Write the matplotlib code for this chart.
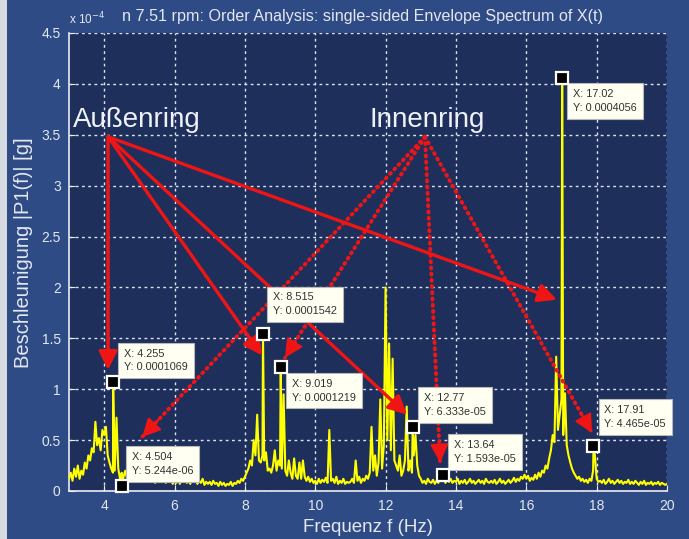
import numpy as np
import matplotlib
matplotlib.use("Agg")
import matplotlib.pyplot as plt
from matplotlib.patches import Rectangle
from matplotlib.ticker import FuncFormatter

# envelope spectrum sampled every 0.05 Hz from 3.00 Hz, amplitude in units of 1e-4 g
spectrum_e4 = [
    # 3.00 - 3.95
    0.12, 0.18, 0.10, 0.22, 0.14, 0.25, 0.12, 0.20, 0.16, 0.28, 0.22, 0.35, 0.30, 0.42, 0.38, 0.68, 0.45, 0.52, 0.40, 0.60,
    # 4.00 - 4.95
    0.55, 0.63, 0.35, 0.28, 0.22, 0.18, 0.20, 0.72, 0.22, 0.12, 0.18, 0.14, 0.20, 0.12, 0.16, 0.10, 0.18, 0.12, 0.15, 0.10,
    # 5.00 - 5.95
    0.14, 0.10, 0.16, 0.12, 0.18, 0.09, 0.13, 0.10, 0.15, 0.08, 0.12, 0.09, 0.14, 0.10, 0.22, 0.08, 0.12, 0.10, 0.11, 0.07,
    # 6.00 - 6.95
    0.10, 0.08, 0.13, 0.07, 0.11, 0.09, 0.12, 0.08, 0.10, 0.07, 0.15, 0.09, 0.11, 0.07, 0.10, 0.08, 0.12, 0.06, 0.09, 0.07,
    # 7.00 - 7.95
    0.09, 0.06, 0.10, 0.07, 0.08, 0.05, 0.09, 0.06, 0.08, 0.05, 0.07, 0.06, 0.09, 0.05, 0.08, 0.07, 0.10, 0.08, 0.12, 0.10,
    # 8.00 - 8.95
    0.14, 0.18, 0.22, 0.30, 0.25, 0.50, 0.35, 0.75, 0.30, 0.28, 0.35, 0.30, 0.38, 0.20, 0.22, 0.18, 0.25, 0.40, 0.20, 0.30,
    # 9.00 - 9.95
    0.25, 0.22, 0.95, 0.20, 0.15, 0.30, 0.18, 0.12, 0.32, 0.15, 0.12, 0.28, 0.12, 0.30, 0.14, 0.10, 0.14, 0.09, 0.12, 0.08,
    # 10.00 - 10.95
    0.10, 0.07, 0.12, 0.08, 0.11, 0.09, 0.13, 0.08, 0.60, 0.10, 0.12, 0.08, 0.14, 0.07, 0.10, 0.08, 0.12, 0.07, 0.09, 0.08,
    # 11.00 - 11.95
    0.09, 0.12, 0.08, 0.30, 0.10, 0.14, 0.08, 0.12, 0.10, 0.15, 0.12, 0.18, 0.63, 0.20, 0.35, 0.15, 0.28, 0.90, 0.22, 0.45,
    # 12.00 - 12.95
    2.00, 0.50, 1.45, 0.40, 1.30, 0.30, 0.25, 0.20, 0.35, 0.15, 0.20, 0.30, 0.83, 0.20, 0.30, 0.18, 0.35, 0.55, 0.25, 0.15,
    # 13.00 - 13.95
    0.12, 0.08, 0.10, 0.07, 0.12, 0.09, 0.08, 0.11, 0.07, 0.10, 0.08, 0.12, 0.10, 0.14, 0.08, 0.11, 0.09, 0.12, 0.08, 0.10,
    # 14.00 - 14.95
    0.09, 0.12, 0.07, 0.10, 0.08, 0.11, 0.07, 0.09, 0.12, 0.08, 0.10, 0.07, 0.09, 0.11, 0.08, 0.10, 0.07, 0.12, 0.09, 0.08,
    # 15.00 - 15.95
    0.10, 0.08, 0.11, 0.07, 0.09, 0.12, 0.08, 0.10, 0.07, 0.09, 0.11, 0.08, 0.10, 0.13, 0.09, 0.12, 0.10, 0.14, 0.12, 0.16,
    # 16.00 - 16.95
    0.12, 0.15, 0.10, 0.13, 0.11, 0.16, 0.12, 0.18, 0.14, 0.20, 0.18, 0.25, 0.22, 0.32, 0.40, 0.55, 0.48, 1.32, 0.60, 0.75,
    # 17.00 - 17.95
    0.90, 0.55, 0.96, 0.45, 0.35, 0.28, 0.22, 0.18, 0.15, 0.12, 0.14, 0.10, 0.12, 0.09, 0.11, 0.08, 0.12, 0.10, 0.20, 0.35,
    # 18.00 - 18.95
    0.12, 0.09, 0.10, 0.08, 0.11, 0.07, 0.09, 0.12, 0.08, 0.10, 0.07, 0.09, 0.11, 0.08, 0.10, 0.07, 0.09, 0.08, 0.11, 0.07,
    # 19.00 - 20.00
    0.09, 0.07, 0.10, 0.08, 0.06, 0.09, 0.07, 0.10, 0.06, 0.08, 0.07, 0.09, 0.06, 0.08, 0.07, 0.09, 0.06, 0.08, 0.07, 0.06,
    0.07,
]
f_start, f_step = 3.0, 0.05

# data tips placed on the spectrum
tip_f = [4.255, 4.504, 8.515, 9.019, 12.77, 13.64, 17.02, 17.91]
tip_y = [0.0001069, 5.244e-06, 0.0001542, 0.0001219, 6.333e-05, 1.593e-05, 0.0004056, 4.465e-05]
tip_xlabel = ["4.255", "4.504", "8.515", "9.019", "12.77", "13.64", "17.02", "17.91"]
tip_ylabel = ["0.0001069", "5.244e-06", "0.0001542", "0.0001219", "6.333e-05", "1.593e-05", "0.0004056", "4.465e-05"]
# pixel offset of the tip text and its vertical anchor
tip_offset = [(11, 10), (10, 10), (10, 18), (11, -12), (11, 10), (11, 11), (11, -11), (11, 17)]
tip_va = ["bottom", "bottom", "bottom", "top", "bottom", "bottom", "top", "bottom"]

# annotation arrows (start -> end in data units, y in 1e-4 g)
outer_start = (4.11, 3.48)
outer_ends = [(4.11, 1.19), (8.49, 1.33), (12.61, 0.75), (16.87, 1.88)]
inner_start = (13.12, 3.48)
inner_ends = [(5.08, 0.53), (9.14, 1.31), (13.55, 0.28), (17.87, 0.57)]

fig_bg = "#2f4b85"
ax_bg = "#1e2f5c"
txt = "#e3e8f1"
red = "#f01515"
head = "-|>,head_length=0.7,head_width=0.35"

plt.rcParams["font.family"] = ["Liberation Sans", "DejaVu Sans"]

fig = plt.figure(figsize=(6.89, 5.39), dpi=100, facecolor=fig_bg)
fig.patches.append(Rectangle((0, 0), 7 / 689, 1, transform=fig.transFigure,
                             facecolor="#d6dbe2", edgecolor="none", zorder=0))
ax = fig.add_axes([69 / 689, 1 - 491 / 539, 598 / 689, 458 / 539])
ax.set_facecolor(ax_bg)

# merge the regular samples with the data tip peaks
freq = f_start + f_step * np.arange(len(spectrum_e4))
amp = np.array(spectrum_e4) * 1e-4
freq = np.concatenate([freq, tip_f])
amp = np.concatenate([amp, tip_y])
order = np.argsort(freq)
ax.plot(freq[order], amp[order], color="#ffff00", lw=1.5, zorder=3)

ax.set_xlim(3, 20)
ax.set_ylim(0, 4.5e-4)
ax.set_xticks(np.arange(4, 21, 2))
ax.set_yticks(np.arange(0, 4.51e-4, 0.5e-4))
ax.yaxis.set_major_formatter(FuncFormatter(lambda v, p: f"{v * 1e4:g}"))
ax.tick_params(direction="in", length=4, color="#e8ecf4", labelcolor=txt,
               labelsize=10, pad=6)
ax.grid(True, color="#dfe5ef", lw=1.0, linestyle=(0, (2, 2.5)))
for s in ["top", "right"]:
    ax.spines[s].set_visible(False)
for s in ["left", "bottom"]:
    ax.spines[s].set_color("#e8ecf4")
    ax.spines[s].set_linewidth(1.2)

ax.set_xlabel("Frequenz f (Hz)", fontsize=13.5, color=txt, labelpad=4)
ax.set_ylabel("Beschleunigung |P1(f)| [g]", fontsize=14.5, color=txt)
ax.yaxis.set_label_coords(-0.06, 0.52)
ax.text(0, 1.012, "x 10$^{-4}$", transform=ax.transAxes, fontsize=8.5,
        color=txt, ha="left", va="bottom")
fig.text(363 / 689, 1 - 17 / 539,
         "n 7.51 rpm: Order Analysis: single-sided Envelope Spectrum of X(t)",
         fontsize=11.6, color=txt, ha="center", va="center")

# group labels
ax.text(4.93, 3.576e-4, "Außenring", fontsize=20, color="#eef1f7",
        ha="center", va="baseline", zorder=6)
ax.text(13.18, 3.576e-4, "Innenring", fontsize=20, color="#eef1f7",
        ha="center", va="baseline", zorder=6)

# solid arrows for the outer race, dotted ones for the inner race
for end in outer_ends:
    ax.annotate("", xy=(end[0], end[1] * 1e-4),
                xytext=(outer_start[0], outer_start[1] * 1e-4),
                arrowprops=dict(arrowstyle=head, color=red, lw=2.4,
                                mutation_scale=16, shrinkA=0, shrinkB=0), zorder=7)
for end in inner_ends:
    sx, sy = inner_start
    ex, ey = end
    ax.annotate("", xy=(ex, ey * 1e-4), xytext=(sx, sy * 1e-4),
                arrowprops=dict(arrowstyle="-", color=red, lw=2.8,
                                linestyle=(0, (0.3, 1.3)), capstyle="round",
                                shrinkA=0, shrinkB=0), zorder=7)
    # short solid piece at the tip carries the arrow head
    hx, hy = ex + (sx - ex) * 0.06, ey + (sy - ey) * 0.06
    ax.annotate("", xy=(ex, ey * 1e-4), xytext=(hx, hy * 1e-4),
                arrowprops=dict(arrowstyle=head, color=red, lw=1.5,
                                mutation_scale=16, shrinkA=0, shrinkB=0), zorder=7)

# data tips
ax.plot(tip_f, tip_y, linestyle="none", marker="s", ms=8, mfc="black",
        mec="white", mew=1.6, zorder=9, clip_on=False)
for fx, fy, xl, yl, off, va in zip(tip_f, tip_y, tip_xlabel, tip_ylabel, tip_offset, tip_va):
    ax.annotate(f"X: {xl}\nY: {yl}", xy=(fx, fy), xytext=off,
                textcoords="offset pixels", ha="left", va=va, fontsize=7.8,
                color="#303030", linespacing=1.45, annotation_clip=False,
                bbox=dict(boxstyle="square,pad=0.55", fc="#fffff2",
                          ec="#b8b8b8", lw=0.8), zorder=8)

fig.savefig("out.png", dpi=100, facecolor=fig_bg)
